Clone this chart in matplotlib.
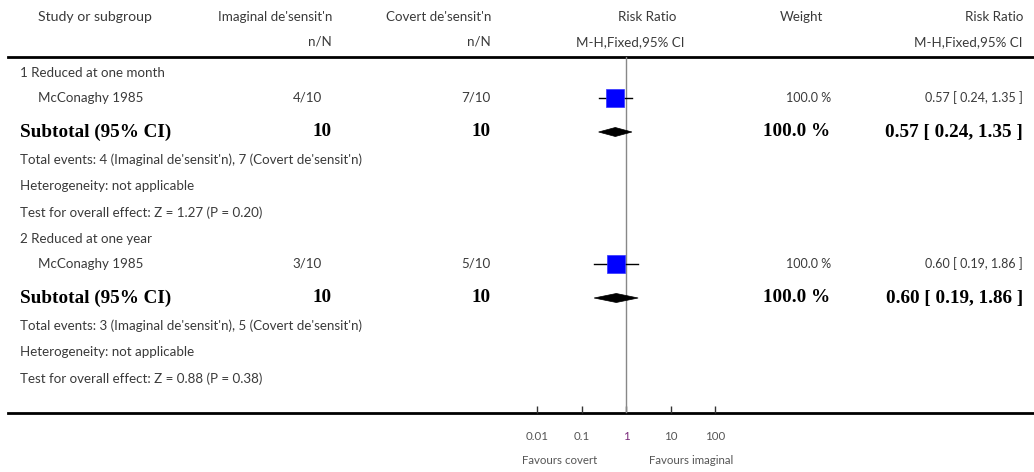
import matplotlib.pyplot as plt
from matplotlib.patches import Polygon, Rectangle

# Data
studies = ['McConaghy 1985', 'McConaghy 1985']
groups = ['1 Reduced at one month', '2 Reduced at one year']
imag_events = ['4/10', '3/10']
cov_events = ['7/10', '5/10']
rr = [0.57, 0.60]
ci_low = [0.24, 0.19]
ci_high = [1.35, 1.86]
weights = ['100.0 %', '100.0 %']
sub_n_imag = [10, 10]
sub_n_cov = [10, 10]
total_events = ['Total events: 4 (Imaginal de\'sensit\'n), 7 (Covert de\'sensit\'n)',
                'Total events: 3 (Imaginal de\'sensit\'n), 5 (Covert de\'sensit\'n)']
overall = ['Test for overall effect: Z = 1.27 (P = 0.20)',
           'Test for overall effect: Z = 0.88 (P = 0.38)']
tick_vals = [0.01, 0.1, 1, 10, 100]
tick_labels = ['0.01', '0.1', '1', '10', '100']

W, H = 1034, 472
fig = plt.figure(figsize=(W / 100, H / 100), dpi=100)
lay = fig.add_axes([0, 0, 1, 1])
lay.set_xlim(0, W)
lay.set_ylim(H, 0)
lay.axis('off')

sans = 'Lato'
serif = 'Liberation Serif'
gray = '#3a3a3a'
fs = 9.6

def t(x, y, s, ha='left', bold=False, size=fs, color=gray):
    if bold:
        lay.text(x, y, s, ha=ha, va='center', fontsize=13.8, fontweight='bold',
                 family=serif, color='black')
    else:
        lay.text(x, y, s, ha=ha, va='center', fontsize=size, family=sans, color=color)

# header
t(38, 17, 'Study or subgroup', size=10.2)
t(332, 17, "Imaginal de'sensit'n", ha='right')
t(332, 42, 'n/N', ha='right')
t(491, 17, "Covert de'sensit'n", ha='right')
t(491, 42, 'n/N', ha='right')
t(676, 17, 'Risk Ratio', ha='right')
t(685, 42, 'M-H,Fixed,95% CI', ha='right')
t(823, 17, 'Weight', ha='right')
t(1023, 17, 'Risk Ratio', ha='right')
t(1023, 42, 'M-H,Fixed,95% CI', ha='right')

top_line, bot_line = 57, 413
lay.plot([8, W], [top_line, top_line], color='black', lw=2)
lay.plot([8, W], [bot_line, bot_line], color='black', lw=2)

# forest axes with log scale
x0, x1 = 537.3, 715.0
fax = fig.add_axes([x0 / W, (H - bot_line) / H, (x1 - x0) / W, (bot_line - top_line) / H])
fax.set_xscale('log')
fax.set_xlim(0.01, 100)
fax.set_ylim(bot_line, top_line)
fax.patch.set_visible(False)
for sp in fax.spines.values():
    sp.set_visible(False)
fax.set_yticks([])
fax.set_xticks(tick_vals)
fax.set_xticklabels(tick_labels, fontsize=8.3, family=sans, color='#555555')
fax.get_xticklabels()[2].set_color('#7a2a7a')
fax.minorticks_off()
fax.tick_params(axis='x', direction='in', length=5, width=1, color='#333333', pad=13)
fax.axvline(1, color='#888888', lw=1)

lay.text(560, 461, 'Favours covert', ha='center', va='center', fontsize=8.3, family=sans, color='#555555')
lay.text(691, 461, 'Favours imaginal', ha='center', va='center', fontsize=8.3, family=sans, color='#555555')

row0 = [73, 239]
for i in range(2):
    y = row0[i]
    t(20, y, groups[i])
    ys = y + 25
    t(38, ys, studies[i])
    t(322, ys, imag_events[i], ha='right')
    t(491, ys, cov_events[i], ha='right')
    t(831, ys, weights[i], ha='right', size=9)
    t(1023, ys, f'{rr[i]:.2f} [ {ci_low[i]:.2f}, {ci_high[i]:.2f} ]', ha='right', size=9)
    # study marker
    fax.plot([ci_low[i], ci_high[i]], [ys, ys], color='black', lw=1)
    fax.plot([rr[i], rr[i]], [ys - 3, ys + 3], color='black', lw=0.8)
    half = 1.0 / 44.4 * 9  # square half-width in log10 units (9 px)
    fax.add_patch(Rectangle((rr[i] / 10 ** half, ys - 9), rr[i] * 10 ** half - rr[i] / 10 ** half, 18,
                            facecolor='#0000ff', edgecolor='#3333ff', lw=0.5, zorder=3))
    # subtotal
    yt = y + 59
    t(20, yt, 'Subtotal (95% CI)', bold=True)
    t(332, yt, str(sub_n_imag[i]), ha='right', bold=True)
    t(491, yt, str(sub_n_cov[i]), ha='right', bold=True)
    t(830, yt, '100.0 %', ha='right', bold=True)
    t(1023, yt, f'{rr[i]:.2f} [ {ci_low[i]:.2f}, {ci_high[i]:.2f} ]', ha='right', bold=True)
    fax.add_patch(Polygon([[ci_low[i], yt], [rr[i], yt - 4.5], [ci_high[i], yt], [rr[i], yt + 4.5]],
                          closed=True, facecolor='black', edgecolor='black', lw=0.5, zorder=3))
    t(20, y + 87, total_events[i])
    t(20, y + 113, 'Heterogeneity: not applicable')
    t(20, y + 140, overall[i])

fig.savefig('out.png', dpi=100)
